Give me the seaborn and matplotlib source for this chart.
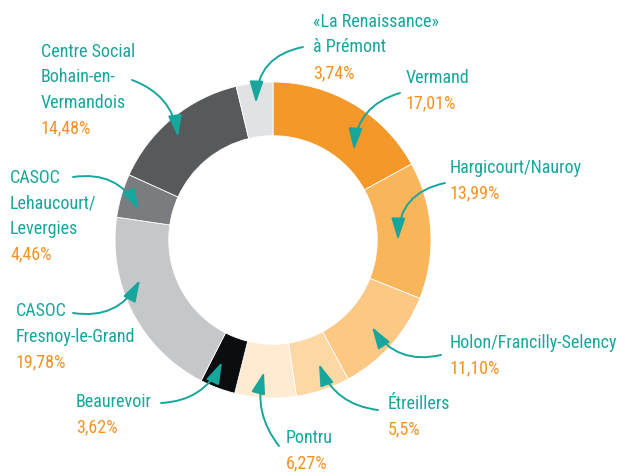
import matplotlib
matplotlib.use("Agg")
import matplotlib.pyplot as plt
import seaborn as sns

# ---- data ----
names = ["Vermand", "Hargicourt/Nauroy", "Holon/Francilly-Selency", "Étreillers",
         "Pontru", "Beaurevoir", "CASOC\nFresnoy-le-Grand",
         "CASOC\nLehaucourt/\nLevergies", "Centre Social\nBohain-en-\nVermandois",
         "«La Renaissance»\nà Prémont"]
values = [17.01, 13.99, 11.10, 5.5, 6.27, 3.62, 19.78, 4.46, 14.48, 3.74]
pct_labels = ["17,01%", "13,99%", "11,10%", "5,5%", "6,27%", "3,62%",
              "19,78%", "4,46%", "14,48%", "3,74%"]
colors = ["#F5982A", "#F9B55A", "#FCC883", "#FDD8A5", "#FEEBD1",
          "#0B0D10", "#C6C7C9", "#7B7C7F", "#58595B", "#E1E2E4"]

TEAL = "#17A69C"
ORANGE = "#F39325"

# ---- layout (pixel coordinates, origin top-left) ----
W, H = 621, 472
text_pos = [(406, 78), (450, 168), (450, 343), (388, 404), (286, 438),
            (76, 402), (16, 311), (10, 178), (41, 52), (313, 22)]
arrow_start = [(400, 93), (445, 183), (441, 355), (378, 410), (279, 446),
               (161, 403), (73, 313), (73, 177), (132, 80), (303, 47)]
arrow_end = [(354, 150), (398, 240), (372, 327), (319, 364), (264, 372),
             (222, 362), (140, 280), (139, 210), (178, 137), (256, 103)]
arrow_rad = [0.35, 0.4, -0.35, -0.3, -0.25, 0.3, 0.35, -0.35, -0.3, 0.4]
LINE = 25.5

sns.set_theme(style="white")
FONT = ["Roboto Condensed", "Roboto", "DejaVu Sans"]
plt.rcParams["font.family"] = FONT

fig = plt.figure(figsize=(W / 100, H / 100), dpi=100)
ax = fig.add_axes([0, 0, 1, 1])

def Y(y):
    return H - y

cx, cy, R = 273, 240, 158
ax.pie(values, colors=colors, startangle=90, counterclock=False,
       center=(cx, Y(cy)), radius=R,
       wedgeprops=dict(width=R * 0.34, edgecolor="white", linewidth=0.6))

for i, name in enumerate(names):
    x, y = text_pos[i]
    lines = name.split("\n")
    for j, ln in enumerate(lines):
        ax.text(x, Y(y + j * LINE), ln, color=TEAL, fontsize=13,
                fontstretch="condensed", va="center", ha="left")
    ax.text(x, Y(y + len(lines) * LINE), pct_labels[i], color=ORANGE,
            fontsize=13, fontstretch="condensed", va="center", ha="left")
    sx, sy = arrow_start[i]
    ex, ey = arrow_end[i]
    ax.annotate("", xy=(ex, Y(ey)), xytext=(sx, Y(sy)),
                arrowprops=dict(arrowstyle="-|>,head_length=1.1,head_width=0.35",
                                color=TEAL, lw=1.4,
                                connectionstyle=f"arc3,rad={arrow_rad[i]}",
                                shrinkA=0, shrinkB=0))

ax.set_xlim(0, W)
ax.set_ylim(0, H)
ax.set_aspect("equal")
ax.axis("off")
fig.savefig("out.png", dpi=100, facecolor="white")
